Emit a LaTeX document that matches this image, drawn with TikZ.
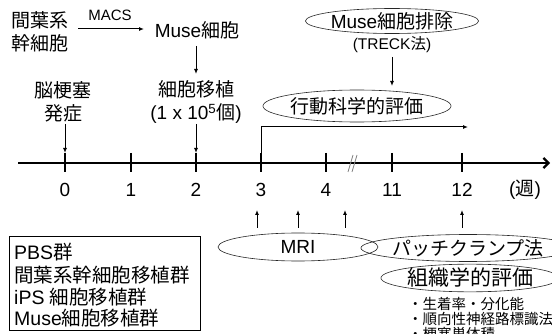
\documentclass[tikz,border=0pt]{standalone}
\usepackage{fontspec}
\setmainfont{Liberation Sans}
\newfontfamily\jp{Noto Sans CJK JP}
\newcommand{\J}[1]{{\jp #1}}
\usetikzlibrary{arrows.meta,shapes.geometric}
\begin{document}
\begin{tikzpicture}[x=1pt,y=-1pt,
  txt/.style={inner sep=0pt,font=\fontsize{19}{23}\selectfont,align=center},
  small/.style={inner sep=0pt,font=\fontsize{15}{18}\selectfont},
  oval/.style={draw=black!85,ellipse,inner sep=0pt,line width=0.6pt,font=\fontsize{19}{23}\selectfont},
  arr/.style={line width=1pt,-{Latex[length=5pt,width=4pt]}},
  tick/.style={line width=2pt},
  wk/.style={inner sep=0pt,font=\fontsize{19}{23}\selectfont}]
\useasboundingbox (0,0) rectangle (552,334);
% timeline coordinates
\coordinate (ax0) at (18,163);
\coordinate (ax1) at (550,163);
\foreach \n/\x in {0/65,1/131,2/196,3/261,4/326,11/392,12/462}{
  \coordinate (t\n) at (\x,153);
  \coordinate (b\n) at (\x,172);
  \draw[tick] (t\n) -- (b\n);
  \node[wk] (l\n) at (\x,190) {\n};
}
\draw[line width=2.2pt,-{Straight Barb[length=5pt,width=10pt]}] (ax0) -- (ax1);
\node[wk] (week) at (525,190) {(\J{週})};
% break marks
\coordinate (k1a) at (348,172); \coordinate (k1b) at (353,155);
\coordinate (k2a) at (352,172); \coordinate (k2b) at (357,155);
\draw[gray,line width=0.8pt] (k1a) -- (k1b);
\draw[gray,line width=0.8pt] (k2a) -- (k2b);
% top-left
\node[txt] (msc) at (40,32) {\J{間葉系}\\\J{幹細胞}};
\node[small] (macs) at (110,15) {MACS};
\node[txt] (muse) at (197,30) {Muse\J{細胞}};
\coordinate (macsA) at (78,29);
\coordinate (macsB) at (144,29);
\draw[arr] (macsA) -- (macsB);
\node[txt] (trans) at (196,102) {\J{細胞移植}\\(1 x 10\textsuperscript{5}\J{個})};
\node[txt] (stroke) at (63,102) {\J{脳梗塞}\\\J{発症}};
\coordinate (museD) at (196,46);
\coordinate (transU) at (196,74);
\draw[arr] (museD) -- (transU);
\coordinate (transD) at (196,124);
\draw[arr] (transD) -- (t2);
\coordinate (strokeD) at (65,124);
\draw[arr] (strokeD) -- (t0);
% top-right
\node[oval,minimum width=160pt,minimum height=25pt] (excl) at (392,21) {Muse\J{細胞排除}};
\node[inner sep=0pt,font=\fontsize{15.5}{18}\selectfont] (treck) at (392,45) {(TRECK\J{法})};
\node[oval,minimum width=182pt,minimum height=32pt] (beh) at (357,106) {\J{行動科学的評価}};
\coordinate (trA) at (392,57);
\coordinate (trB) at (392,86);
\draw[arr] (trA) -- (trB);
\coordinate (brC) at (261,127);
\coordinate (brE) at (468,127);
\draw[line width=1pt,-{Latex[length=5pt,width=4pt]}] (t3) -- (brC) -- (brE);
% bottom
\node[oval,minimum width=160pt,minimum height=28pt] (mri) at (298,247) {MRI};
\foreach \x/\i in {257/a,298/b,345/c}{
  \coordinate (ma\i) at (\x,228);
  \coordinate (mb\i) at (\x,210);
  \draw[arr] (ma\i) -- (mb\i);
}
\node[oval,minimum width=164pt,minimum height=27pt] (patch) at (468,248) {\J{パッチクランプ法}};
\coordinate (pa) at (462,228);
\coordinate (pb) at (462,210);
\draw[arr] (pa) -- (pb);
\node[oval,minimum width=160pt,minimum height=27pt,font=\fontsize{21}{25}\selectfont] (histo) at (470,278) {\J{組織学的評価}};
\node[inner sep=0pt,anchor=north west,align=left,font=\fontsize{14.5}{15}\selectfont\jp] (bul) at (408,297) {・生着率・分化能\\・順向性神経路標識法\\・梗塞巣体積};
% groups box
\node[draw,line width=0.7pt,anchor=north west,minimum width=191pt,minimum height=94pt,inner sep=0pt] (box) at (9,236) {};
\node[inner sep=0pt,anchor=west,font=\fontsize{19.5}{22}\selectfont] (g1) at (14,252) {PBS\J{群}};
\node[inner sep=0pt,anchor=west,font=\fontsize{19.5}{22}\selectfont] (g2) at (14,275) {\J{間葉系幹細胞移植群}};
\node[inner sep=0pt,anchor=west,font=\fontsize{19.5}{22}\selectfont] (g3) at (14,297) {iPS \J{細胞移植群}};
\node[inner sep=0pt,anchor=west,font=\fontsize{19.5}{22}\selectfont] (g4) at (14,318) {Muse\J{細胞移植群}};
\end{tikzpicture}
\end{document}
